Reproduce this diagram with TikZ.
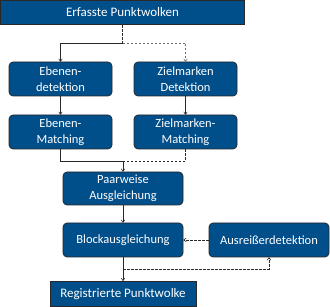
\documentclass[tikz,border=0pt]{standalone}
\usepackage{fontspec}
\setmainfont{Carlito}
\usetikzlibrary{arrows.meta}
\definecolor{boxblue}{RGB}{0,78,138}
\definecolor{edgegray}{RGB}{40,40,40}
\definecolor{lightdash}{RGB}{110,110,110}
\tikzset{
  x=1pt, y=-1pt,
  basebox/.style={draw=edgegray, line width=0.7pt, fill=boxblue, text=white,
    align=center, inner sep=0pt},
  roundbox/.style={basebox, rounded corners=4pt, font=\fontsize{12.5}{15.5}\selectfont},
  squarebox/.style={basebox, font=\fontsize{13}{15.5}\selectfont},
  conn/.style={draw=edgegray, line width=0.6pt},
  arr/.style={conn, -{To[length=3pt,width=4pt]}},
  dconn/.style={conn, dashed, dash pattern=on 2.5pt off 1.5pt},
  darr/.style={dconn, -{To[length=3pt,width=4pt]}},
}
\begin{document}
\begin{tikzpicture}
\useasboundingbox (0,0) rectangle (330,307);
\node[squarebox, minimum width=244pt, minimum height=24.5pt] (top) at (122.5,12.5) {Erfasste Punktwolken};
\node[roundbox, minimum width=103pt, minimum height=34pt] (ed) at (60.5,79) {Ebenen-\\detektion};
\node[roundbox, minimum width=103pt, minimum height=34pt] (zd) at (185.5,79) {Zielmarken\\Detektion};
\node[roundbox, minimum width=103pt, minimum height=34pt] (em) at (60.5,132) {Ebenen-\\Matching};
\node[roundbox, minimum width=103pt, minimum height=34pt] (zm) at (185.5,132) {Zielmarken-\\Matching};
\node[roundbox, minimum width=120pt, minimum height=33pt] (pa) at (123,188.5) {Paarweise\\Ausgleichung};
\node[roundbox, minimum width=120pt, minimum height=34pt] (bl) at (123,240) {Blockausgleichung};
\node[roundbox, minimum width=120pt, minimum height=34pt] (au) at (269,240) {Ausreißerdetektion};
\node[squarebox, minimum width=146pt, minimum height=25.5pt] (rp) at (123,294) {Registrierte Punktwolke};
\coordinate (j1) at (122.5,43);
\coordinate (j2) at (123,161);
\coordinate (j3) at (123,269);
\draw[dconn] (top.south) -- (j1);
\draw[arr] (j1) -| (ed.north);
\draw[darr, draw=lightdash] (j1) -| (zd.north);
\draw[arr] (ed.south) -- (em.north);
\draw[arr] (zd.south) -- (zm.north);
\draw[conn] (em.south) |- (j2);
\draw[dconn] (zm.south) |- (j2);
\draw[arr] (j2) -- (pa.north);
\draw[arr] (pa.south) -- (bl.north);
\draw[darr] (au.west) -- (bl.east);
\draw[arr] (bl.south) -- (rp.north);
\draw[darr] (j3) -| (au.south);
\end{tikzpicture}
\end{document}
